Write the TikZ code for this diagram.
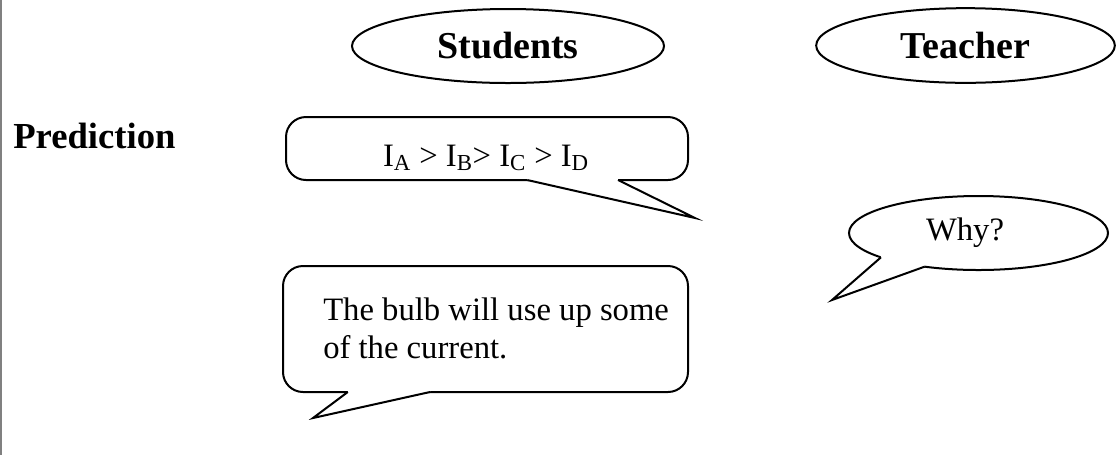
\documentclass[tikz,border=0pt]{standalone}
\usepackage{fontspec}
\setmainfont{Liberation Serif}
\usepackage{xcolor}
\usetikzlibrary{calc,shapes.geometric}

\definecolor{framegray}{RGB}{128,128,128}
\tikzset{
  bubble/.style={draw, line width=1.5pt, outer sep=0pt, inner sep=0pt},
  boxbub/.style={bubble, rectangle, rounded corners=15pt},
  ovalbub/.style={bubble, ellipse},
  headtxt/.style={font=\fontsize{27.5pt}{33pt}\selectfont\bfseries, inner sep=0pt},
  colhead/.style={ovalbub, font=\fontsize{28.5pt}{34pt}\selectfont\bfseries},
  saytxt/.style={font=\fontsize{24.5pt}{28.5pt}\selectfont, inner sep=0pt},
  tail/.style={line width=1.5pt},
}

\begin{document}
\begin{tikzpicture}[x=0.75pt,y=-0.75pt]
  \useasboundingbox (0,0) rectangle (1117,455);
  % Left frame line
  \draw[framegray, line width=1.5pt] (1,0) -- (1,455);
  % Headings
  \node[headtxt, anchor=base west] (pred) at (13,148) {Prediction};
  \node[colhead, minimum width=234pt, minimum height=55.5pt] (stud) at (508,46) {Students};
  \node[colhead, minimum width=224pt, minimum height=56pt] (teach) at (965.5,45.5) {Teacher};
  % Students: first bubble
  \node[boxbub, minimum width=301.5pt, minimum height=47.25pt] (ineq) at (487,148.5) {};
  \node[saytxt, anchor=base] (ineqtxt) at (486,166)
    {I\textsubscript{A} > I\textsubscript{B}> I\textsubscript{C} > I\textsubscript{D}};
  \coordinate (ineqa) at ($(ineq.south west)!0.6!(ineq.south east)$);
  \coordinate (ineqb) at ($(ineq.south west)!0.826!(ineq.south east)$);
  \coordinate (ineqtip) at (695,218);
  \fill[white] ($(ineqa)+(0,-3)$) -- ($(ineqb)+(0,-3)$) -- (ineqb) -- (ineqtip) -- (ineqa) -- cycle;
  \draw[tail] (ineqa) -- (ineqtip) -- (ineqb);
  % Students: second bubble
  \node[boxbub, minimum width=303.75pt, minimum height=94.5pt] (bulb) at (485.5,329) {};
  \node[saytxt, anchor=north west, align=left] (bulbtxt) at (323,298)
    {The bulb will use up some\\of the current.};
  \coordinate (bulba) at ($(bulb.south west)!0.363!(bulb.south east)$);
  \coordinate (bulbb) at ($(bulb.south west)!0.16!(bulb.south east)$);
  \coordinate (bulbtip) at (313,418);
  \fill[white] ($(bulba)+(0,-3)$) -- ($(bulbb)+(0,-3)$) -- (bulbb) -- (bulbtip) -- (bulba) -- cycle;
  \draw[tail] (bulba) -- (bulbtip) -- (bulbb);
  % Teacher bubble
  \node[ovalbub, minimum width=194.25pt, minimum height=55.5pt] (whybub) at (978.5,233) {};
  \node[saytxt, anchor=base] (why) at (965,240) {Why?};
  \coordinate (whytip) at (832,300);
  \fill[white] ($(whybub.194)+(0,-3)$) -- ($(whybub.212)+(0,-3)$) -- (whybub.212) -- (whytip) -- (whybub.194) -- cycle;
  \draw[tail] (whybub.194) -- (whytip) -- (whybub.212);
\end{tikzpicture}
\end{document}
